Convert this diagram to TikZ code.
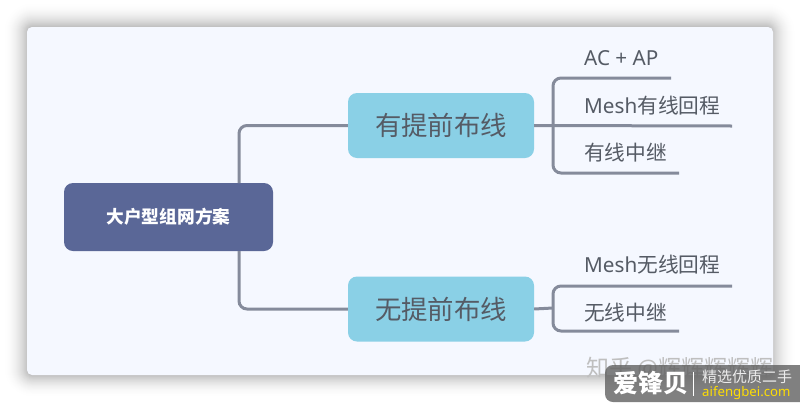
\documentclass[tikz,border=0pt]{standalone}
\usepackage{fontspec}
\setmainfont{Noto Sans CJK SC}
\newfontfamily\latinf{Noto Sans}
\tikzset{
  x=1pt,y=-1pt,
  link/.style={draw=linkc,line width=3pt,rounded corners=8pt},
  rootbox/.style={fill=rootc,rounded corners=9pt,minimum width=209pt,minimum height=68pt,inner sep=0pt,text=white,font=\fontsize{17.7}{20}\selectfont\bfseries},
  midbox/.style={fill=midc,rounded corners=9pt,minimum width=186pt,minimum height=65pt,inner sep=0pt,text=textc,font=\fontsize{26.4}{30}\selectfont},
  leaf/.style={anchor=west,inner sep=0pt,text=textc,font=\fontsize{20.7}{24}\selectfont},
}
\definecolor{linkc}{HTML}{858B9B}
\definecolor{rootc}{HTML}{5A6797}
\definecolor{midc}{HTML}{8AD0E6}
\definecolor{textc}{HTML}{555B65}
\definecolor{cardc}{HTML}{F5F8FF}
\begin{document}
\begin{tikzpicture}
\useasboundingbox (0,0) rectangle (800,402);
\fill[white] (0,0) rectangle (800,402);
% card shadow: opaque layers, outermost first
\foreach \d in {24,23,...,1}{
  \pgfmathsetmacro{\p}{26*(1-\d/25)^2}
  \fill[black!\p!white,rounded corners=\d pt+5pt] (28-\d,27-\d) rectangle (771+\d,375+\d*0.9);
}
\fill[cardc,rounded corners=5pt] (27,27) rectangle (773,375);
% nodes
\node[rootbox] (root) at (168.5,217) {大户型组网方案};
\node[midbox] (wired) at (441,125.5) {有提前布线};
\node[midbox] (wless) at (441,309) {无提前布线};
\node[leaf] (a1) at (584,58) {\latinf AC + AP};
\node[leaf] (a2) at (584,105.5) {{\latinf Mesh}有线回程};
\node[leaf] (a3) at (584,152.5) {有线中继};
\node[leaf] (b1) at (584,264.5) {{\latinf Mesh}无线回程};
\node[leaf] (b2) at (584,312.5) {无线中继};
% free ends
\coordinate (ra) at (239,183);
\coordinate (rb) at (239,251);
\coordinate (wj) at (553,126);
\coordinate (lj) at (553,308);
\coordinate (e1) at (671,78);
\coordinate (e2) at (732,126);
\coordinate (e3) at (679,173);
\coordinate (e4) at (732,286);
\coordinate (e5) at (679,331);
% connectors
\draw[link] (ra) |- (wired.west);
\draw[link] (rb) |- (wless.west);
\draw[link] (wired.east) -- (e2);
\draw[link] (e1) -| (wj) |- (e3);
\draw[link] (wless.east) -- (lj);
\draw[link] (e4) -| (lj) |- (e5);
% watermark
\node[anchor=west,inner sep=0pt,text=black!25,font=\fontsize{23}{26}\selectfont] (zh) at (586,368) {知乎 {\latinf @}辉辉辉辉辉};
\fill[black!62,opacity=0.8,rounded corners=8pt] (830,365) -- (605,365) -- (605,402) -- (830,402) -- cycle;
\node[inner sep=0pt,text=white,font=\fontsize{25}{28}\selectfont\bfseries] (brand) at (650.5,383) {爱锋贝};
\node[anchor=west,inner sep=0pt,text=white!85!gray,font=\fontsize{15}{17}\selectfont] (slog) at (702,377) {精选优质二手};
\node[anchor=west,inner sep=0pt,text=yellow!80!orange,font=\fontsize{13.2}{16}\latinf] (site) at (702,393) {aifengbei.com};
\coordinate (sa) at (693.5,372);
\coordinate (sb) at (693.5,396);
\draw[white,line width=1.5pt] (sa) -- (sb);
\end{tikzpicture}
\end{document}
